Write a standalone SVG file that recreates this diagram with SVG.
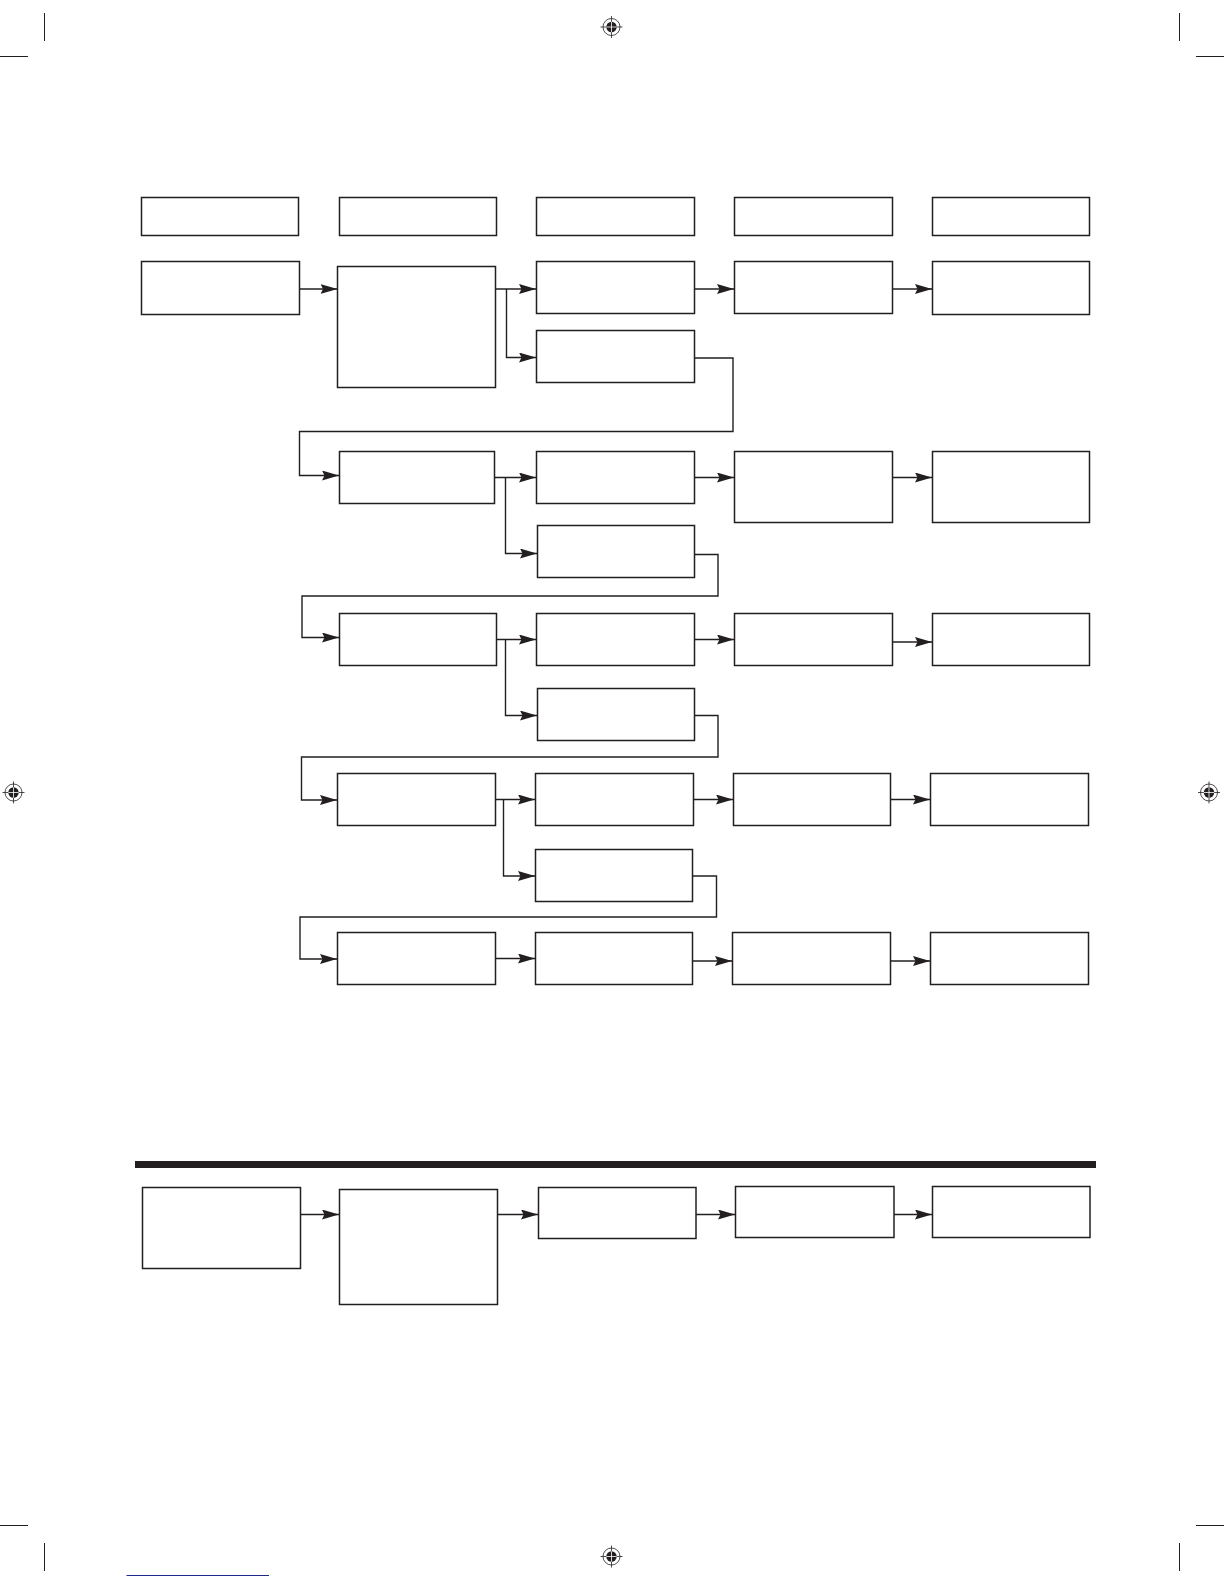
<svg xmlns="http://www.w3.org/2000/svg" width="1224" height="1584" viewBox="0 0 1224 1584">
<style>
.box{fill:#fff;stroke:#231f20;stroke-width:1.5}
.con{fill:none;stroke:#231f20;stroke-width:1.4;marker-end:url(#ah)}
.conp{fill:none;stroke:#231f20;stroke-width:1.4}
.crop{stroke:#231f20;stroke-width:1}
</style>
<defs>
<marker id="ah" markerUnits="userSpaceOnUse" markerWidth="18" markerHeight="12" refX="17" refY="5" orient="auto">
<path d="M0,0 L17,5 L0,10 L2.5,5 Z" fill="#231f20"/>
</marker>
<g id="reg">
<circle cx="0" cy="0" r="8.5" fill="none" stroke="#231f20" stroke-width="0.8"/>
<circle cx="0" cy="0" r="5.2" fill="#231f20"/>
<path d="M-11,0 H11 M0,-11 V11" stroke="#231f20" stroke-width="0.8"/>
<path d="M-5.2,0 H5.2 M0,-5.2 V5.2" stroke="#fff" stroke-width="0.8"/>
</g>
</defs>
<rect width="1224" height="1584" fill="#fff"/>

<g id="printmarks">
<path class="crop" d="M44.5,13 V41 M0,56.5 H28 M1179.5,13 V41 M1196,56.5 H1224 M0,1525.5 H28 M44.5,1543 V1571 M1196,1525.5 H1224 M1179.5,1543 V1571"/>
<use href="#reg" x="611.5" y="27"/>
<use href="#reg" x="13.5" y="792.5"/>
<use href="#reg" x="1209" y="792.5"/>
<use href="#reg" x="611.5" y="1556.5"/>
<line x1="126.5" y1="1575.5" x2="269" y2="1575.5" stroke="#1f2a8a" stroke-width="1.2"/>
</g>

<g id="headers">
<rect id="h1" class="box" x="141.5" y="197.5" width="157" height="38"/>
<rect id="h2" class="box" x="339.5" y="197.5" width="157" height="38"/>
<rect id="h3" class="box" x="536.5" y="197.5" width="158" height="38"/>
<rect id="h4" class="box" x="734.5" y="197.5" width="158" height="38"/>
<rect id="h5" class="box" x="932.5" y="197.5" width="157" height="38"/>
</g>

<g id="connectors">
<path class="con" d="M297,289 H337.5"/>
<path class="con" d="M496,289 H536"/>
<path class="con" d="M506.5,289 V357.5 H536"/>
<path class="con" d="M694.5,289 H734"/>
<path class="con" d="M893,289 H932"/>
<path class="con" d="M694.5,358 H733 V431.5 H299.5 V475.5 H339"/>

<path class="con" d="M494.5,477.5 H536"/>
<path class="con" d="M505.5,477.5 V553.5 H537"/>
<path class="con" d="M694.5,477.5 H734"/>
<path class="con" d="M893,477.5 H932"/>
<path class="con" d="M694.5,554.5 H718 V596 H302 V637.5 H339"/>

<path class="con" d="M496.5,639.5 H536"/>
<path class="con" d="M505.5,639.5 V715.5 H537"/>
<path class="con" d="M694.5,639.5 H734"/>
<path class="con" d="M893,642 H932"/>
<path class="con" d="M694.5,715.5 H718 V757 H301.5 V800 H337"/>

<path class="con" d="M495.5,799.5 H535"/>
<path class="con" d="M503.5,799.5 V876 H535"/>
<path class="con" d="M693.5,799.5 H733"/>
<path class="con" d="M890.5,799.5 H930"/>
<path class="con" d="M692.5,876 H716.5 V917 H300 V959 H337"/>

<path class="con" d="M495.5,958.5 H535"/>
<path class="con" d="M692.5,961 H732"/>
<path class="con" d="M890.5,961 H930"/>

<path class="con" d="M300.5,1214.5 H339"/>
<path class="con" d="M497.5,1214.5 H538"/>
<path class="con" d="M696,1214.5 H735"/>
<path class="con" d="M894,1214.5 H932"/>
</g>

<g id="row1">
<rect id="r1c1" class="box" x="141.5" y="261.5" width="158" height="53"/>
<rect id="r1c2" class="box" x="337.5" y="266.5" width="158" height="121"/>
<rect id="r1c3" class="box" x="536.5" y="261.5" width="158" height="52"/>
<rect id="r1c4" class="box" x="734.5" y="261.5" width="158" height="52"/>
<rect id="r1c5" class="box" x="932.5" y="261.5" width="157" height="53"/>
<rect id="r1c3b" class="box" x="536.5" y="330.5" width="158" height="52"/>
</g>

<g id="row2">
<rect id="r2c2" class="box" x="339.5" y="451.5" width="155" height="52"/>
<rect id="r2c3" class="box" x="536.5" y="451.5" width="158" height="52"/>
<rect id="r2c4" class="box" x="734.5" y="451.5" width="158" height="71"/>
<rect id="r2c5" class="box" x="932.5" y="451.5" width="157" height="71"/>
<rect id="r2c3b" class="box" x="537.5" y="525.5" width="157" height="52"/>
</g>

<g id="row3">
<rect id="r3c2" class="box" x="339.5" y="613.5" width="157" height="52"/>
<rect id="r3c3" class="box" x="536.5" y="613.5" width="158" height="52"/>
<rect id="r3c4" class="box" x="734.5" y="613.5" width="158" height="52"/>
<rect id="r3c5" class="box" x="932.5" y="613.5" width="157" height="52"/>
<rect id="r3c3b" class="box" x="537.5" y="688.5" width="157" height="52"/>
</g>

<g id="row4">
<rect id="r4c2" class="box" x="337.5" y="773.5" width="158" height="52"/>
<rect id="r4c3" class="box" x="535.5" y="773.5" width="158" height="52"/>
<rect id="r4c4" class="box" x="733.5" y="773.5" width="157" height="52"/>
<rect id="r4c5" class="box" x="930.5" y="773.5" width="158" height="52"/>
<rect id="r4c3b" class="box" x="535.5" y="849.5" width="157" height="52"/>
</g>

<g id="row5">
<rect id="r5c2" class="box" x="337.5" y="932.5" width="158" height="52"/>
<rect id="r5c3" class="box" x="535.5" y="932.5" width="157" height="52"/>
<rect id="r5c4" class="box" x="732.5" y="932.5" width="158" height="52"/>
<rect id="r5c5" class="box" x="930.5" y="932.5" width="158" height="52"/>
</g>

<g id="divider">
<rect x="135" y="1161" width="961" height="7" fill="#231f20"/>
</g>

<g id="bottom">
<rect id="b1" class="box" x="142.5" y="1187.5" width="158" height="81"/>
<rect id="b2" class="box" x="339.5" y="1189.5" width="158" height="115"/>
<rect id="b3" class="box" x="538.5" y="1187.5" width="157.5" height="51"/>
<rect id="b4" class="box" x="735.5" y="1186.5" width="158.5" height="51"/>
<rect id="b5" class="box" x="932.5" y="1186.5" width="157.5" height="51"/>
</g>
</svg>
